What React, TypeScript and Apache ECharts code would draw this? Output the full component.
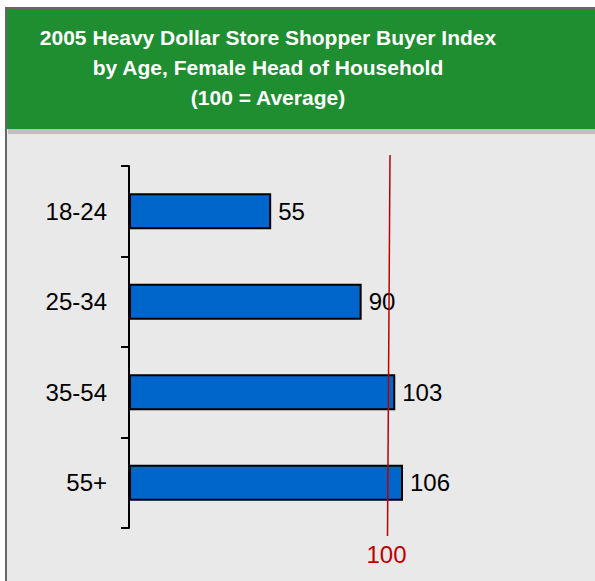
import React, { useEffect, useRef } from "react";
import * as echarts from "echarts";

const categories = ["18-24", "25-34", "35-54", "55+"];
const indexValues = [55, 90, 103, 106];
const averageValue = 100;
const titleLines = [
  "2005 Heavy Dollar Store Shopper Buyer Index",
  "by Age, Female Head of Household",
  "(100 = Average)",
];

const FONT = "'Liberation Sans', Arial, Helvetica, sans-serif";

export default function App() {
  const ref = useRef<HTMLDivElement>(null);
  useEffect(() => {
    if (!ref.current) return;
    const chart = echarts.init(ref.current, undefined, { renderer: "svg" });
    const baseGraphics: any[] = [
      {
        type: "rect",
        silent: true,
        z: -10,
        shape: { x: 6, y: 8, width: 700, height: 700 },
        style: { fill: "#e9e9e9", stroke: "#666666", lineWidth: 2 },
      },
      {
        type: "rect",
        silent: true,
        z: -9,
        shape: { x: 7, y: 9, width: 700, height: 120 },
        style: { fill: "#1e8e30" },
      },
      {
        type: "rect",
        silent: true,
        z: -9,
        shape: { x: 8, y: 129, width: 700, height: 5 },
        style: { fill: "#c0c0c0" },
      },
      {
        type: "text",
        silent: true,
        style: {
          text: titleLines.join("\n"),
          x: 268,
          y: 22,
          align: "center",
          verticalAlign: "top",
          lineHeight: 30,
          fontSize: 21,
          fontWeight: "bold",
          fontFamily: FONT,
          fill: "#ffffff",
        },
      },
    ];
    const option: any = {
      animation: false,
      backgroundColor: "#ffffff",
      grid: { left: 129, top: 166, height: 362, width: 465.3, containLabel: false },
      xAxis: {
        type: "value",
        min: 0,
        max: 180,
        show: false,
      },
      yAxis: {
        type: "category",
        data: categories,
        inverse: true,
        axisLine: { show: true, lineStyle: { color: "#000", width: 2 } },
        axisTick: { show: true, length: 8, lineStyle: { color: "#000", width: 2 } },
        axisLabel: { fontSize: 24, color: "#000", fontFamily: FONT, margin: 22 },
        splitLine: { show: false },
      },
      series: [
        {
          type: "bar",
          data: indexValues,
          barWidth: 36,
          itemStyle: { color: "#0066cc", borderColor: "#000", borderWidth: 2 },
          label: {
            show: true,
            position: "right",
            distance: 7,
            fontSize: 24,
            color: "#000",
            fontFamily: FONT,
          },
        },
      ],
      graphic: baseGraphics,
    };
    chart.setOption(option);
    const px = chart.convertToPixel({ xAxisIndex: 0 }, averageValue) as number;
    chart.setOption({
      graphic: [
        ...baseGraphics,
        {
          type: "line",
          silent: true,
          z: 10,
          shape: { x1: px + 2.5, y1: 155, x2: px, y2: 536 },
          style: { stroke: "#c00000", lineWidth: 1.5 },
        },
        {
          type: "text",
          silent: true,
          z: 10,
          style: {
            text: String(averageValue),
            x: px - 1,
            y: 554,
            align: "center",
            verticalAlign: "middle",
            fontSize: 24,
            fontFamily: FONT,
            fill: "#c00000",
          },
        },
      ],
    });
    return () => chart.dispose();
  }, []);
  return (
    <div
      ref={ref}
      style={{ position: "fixed", left: 0, top: 0, width: 595, height: 581 }}
    />
  );
}
